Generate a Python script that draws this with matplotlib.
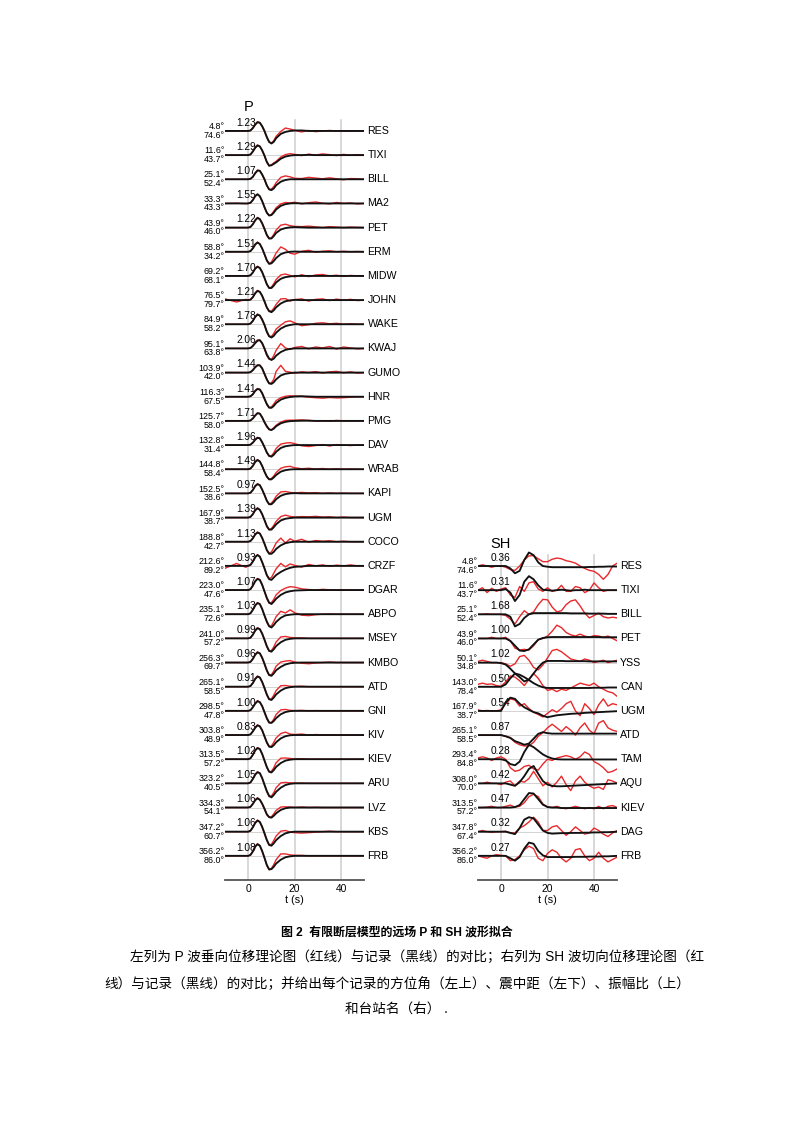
import numpy as np
import matplotlib
matplotlib.use('Agg')
import matplotlib.pyplot as plt

plt.rcParams['font.family'] = ['Liberation Sans', 'Noto Sans CJK SC', 'DejaVu Sans']

# --- tiempos de muestreo (s) -------------------------------------------------
t_p = [-10, -5, -1, 0, 1, 2, 3, 4, 5, 6, 7, 8, 9, 10, 11, 12,
       14, 16, 18, 20, 23, 26, 29, 32, 35, 38, 41, 44, 47, 50]
t_sh = [-10, -8, -6, -4, -2, 0, 2, 4, 6, 8, 10, 12, 14, 16, 18, 20,
        22, 24, 26, 28, 30, 32, 34, 36, 38, 40, 42, 44, 46, 48, 50]

# --- estaciones P ------------------------------------------------------------
p_sta = ['RES', 'TIXI', 'BILL', 'MA2', 'PET', 'ERM', 'MIDW', 'JOHN', 'WAKE', 'KWAJ',
         'GUMO', 'HNR', 'PMG', 'DAV', 'WRAB', 'KAPI', 'UGM', 'COCO', 'CRZF', 'DGAR',
         'ABPO', 'MSEY', 'KMBO', 'ATD', 'GNI', 'KIV', 'KIEV', 'ARU', 'LVZ', 'KBS', 'FRB']
p_az = [4.8, 11.6, 25.1, 33.3, 43.9, 58.8, 69.2, 76.5, 84.9, 95.1,
        103.9, 116.3, 125.7, 132.8, 144.8, 152.5, 167.9, 188.8, 212.6, 223.0,
        235.1, 241.0, 256.3, 265.1, 298.5, 303.8, 313.5, 323.2, 334.3, 347.2, 356.2]
p_dist = [74.6, 43.7, 52.4, 43.3, 46.0, 34.2, 68.1, 79.7, 58.2, 63.8,
          42.0, 67.5, 58.0, 31.4, 58.4, 38.6, 38.7, 42.7, 89.2, 47.6,
          72.6, 57.2, 69.7, 58.5, 47.8, 48.9, 57.2, 40.5, 54.1, 60.7, 86.0]
p_amp = [1.23, 1.29, 1.07, 1.55, 1.22, 1.51, 1.70, 1.21, 1.78, 2.06,
         1.44, 1.41, 1.71, 1.96, 1.49, 0.97, 1.39, 1.13, 0.93, 1.07,
         1.03, 0.99, 0.96, 0.91, 1.00, 0.83, 1.02, 1.05, 1.06, 1.06, 1.08]

# registros (negro) y sinteticos (rojo), en unidades de separacion entre trazas
p_res_obs = [0, 0, 0, 0, .02, .12, .26, .36, .34, .2, 0, -.25, -.45, -.52, -.45, -.3, -.12, -.04, 0, .02, .02, 0, 0, 0, 0, 0, 0, 0, 0, 0]
p_res_syn = [0, 0, 0, 0, .02, .13, .28, .38, .34, .18, -.02, -.28, -.47, -.5, -.4, -.22, -.02, .12, .08, .02, -.04, .02, -.03, 0, .02, 0, 0, -.01, 0, 0]
p_tixi_obs = [0, 0, 0, 0, .03, .15, .3, .4, .36, .2, -.02, -.28, -.44, -.42, -.36, -.3, -.15, -.06, -.02, 0, 0, .01, 0, 0, 0, 0, 0, 0, 0, 0]
p_tixi_syn = [0, 0, 0, 0, .03, .16, .32, .42, .36, .18, -.04, -.3, -.44, -.4, -.32, -.26, -.08, .02, .06, .03, -.02, .04, 0, .05, .02, -.02, .03, 0, .02, 0]
p_bill_obs = [0, 0, 0, 0, .02, .1, .25, .36, .35, .2, 0, -.25, -.42, -.45, -.38, -.25, -.1, -.03, 0, 0, 0, 0, 0, 0, 0, 0, 0, 0, 0, 0]
p_bill_syn = [0, 0, 0, 0, .02, .11, .27, .38, .35, .18, -.02, -.27, -.42, -.4, -.3, -.14, .08, .14, .1, .04, .03, .08, .05, .02, .06, .02, -.02, .03, .02, 0]
p_ma2_obs = [0, 0, 0, 0, .03, .14, .3, .38, .3, .1, -.15, -.38, -.5, -.48, -.38, -.25, -.1, -.03, 0, .01, 0, 0, 0, 0, 0, 0, 0, 0, 0, 0]
p_ma2_syn = [0, .01, -.01, 0, .03, .15, .32, .38, .28, .08, -.18, -.4, -.5, -.45, -.32, -.18, -.02, .04, .02, .05, -.02, .03, .06, .01, -.02, .04, 0, .02, -.02, 0]
p_pet_obs = [0, 0, 0, 0, .03, .14, .3, .4, .35, .18, -.05, -.3, -.45, -.45, -.35, -.22, -.08, -.02, .01, .02, .01, 0, 0, 0, 0, 0, 0, 0, 0, 0]
p_pet_syn = [0, 0, 0, 0, .03, .15, .32, .42, .35, .16, -.08, -.33, -.46, -.42, -.28, -.1, .1, .14, .08, .05, .04, .06, .03, 0, .04, .02, 0, .02, .01, 0]
p_erm_obs = [0, 0, 0, 0, .03, .14, .3, .38, .32, .14, -.1, -.35, -.5, -.48, -.38, -.26, -.1, -.03, 0, .01, 0, 0, 0, 0, 0, 0, 0, 0, 0, 0]
p_erm_syn = [0, 0, 0, 0, .03, .15, .32, .4, .32, .12, -.12, -.38, -.5, -.42, -.25, -.05, .2, .1, -.06, -.1, .02, .06, -.02, .02, .04, 0, .02, 0, .01, 0]
p_midw_obs = [0, 0, 0, 0, .03, .14, .3, .38, .33, .16, -.08, -.34, -.5, -.5, -.4, -.27, -.12, -.05, -.02, 0, 0, 0, 0, 0, 0, 0, 0, 0, 0, 0]
p_midw_syn = [0, 0, 0, 0, .03, .15, .32, .4, .32, .14, -.1, -.36, -.5, -.46, -.32, -.15, .04, .08, .02, -.04, .05, -.03, .04, .06, 0, .03, -.02, .02, 0, 0]
p_john_obs = [0, 0, 0, 0, .02, .12, .28, .38, .34, .18, -.05, -.3, -.46, -.5, -.42, -.3, -.14, -.05, -.01, .01, 0, 0, 0, 0, 0, 0, 0, 0, 0, 0]
p_john_syn = [.05, -.08, .03, 0, .02, .13, .3, .4, .34, .16, -.08, -.32, -.46, -.45, -.34, -.18, .05, .06, -.04, .02, .05, -.04, .03, .05, -.02, .04, 0, .03, -.02, 0]
p_wake_obs = [0, 0, 0, 0, .03, .14, .3, .4, .36, .2, -.02, -.3, -.5, -.55, -.48, -.35, -.18, -.08, -.03, 0, 0, 0, 0, 0, 0, 0, 0, 0, 0, 0]
p_wake_syn = [0, 0, 0, 0, .03, .15, .32, .42, .35, .16, -.06, -.34, -.5, -.5, -.38, -.2, -.04, .1, .14, .06, -.06, -.02, .04, .06, .02, .04, 0, .02, 0, 0]
p_kwaj_obs = [0, 0, 0, 0, .02, .1, .22, .32, .34, .22, 0, -.25, -.42, -.48, -.42, -.3, -.15, -.06, -.02, 0, 0, 0, 0, 0, 0, 0, 0, 0, 0, 0]
p_kwaj_syn = [0, 0, 0, 0, .02, .12, .25, .35, .34, .2, -.04, -.3, -.45, -.45, -.3, -.08, .2, .02, -.04, .04, .08, -.02, .06, .02, .08, -.03, .06, .02, -.02, 0]
p_gumo_obs = [0, 0, 0, 0, .02, .1, .22, .3, .3, .18, -.05, -.28, -.45, -.47, -.4, -.28, -.12, -.05, -.02, 0, 0, 0, 0, 0, 0, 0, 0, 0, 0, 0]
p_gumo_syn = [0, 0, 0, 0, .02, .11, .24, .32, .3, .15, -.08, -.3, -.45, -.42, -.28, .05, .3, .05, .02, -.03, .03, 0, .04, -.02, .03, .05, -.01, .03, -.02, 0]
p_hnr_obs = [0, 0, 0, 0, .02, .1, .24, .32, .3, .15, -.08, -.3, -.45, -.46, -.38, -.26, -.12, -.05, -.01, .01, .02, .01, 0, 0, 0, 0, 0, 0, 0, 0]
p_hnr_syn = [0, 0, 0, 0, .02, .11, .26, .34, .3, .13, -.1, -.33, -.46, -.42, -.3, -.16, -.04, .02, .04, .03, .02, -.02, -.04, -.06, -.03, -.05, -.04, -.02, 0, 0]
p_pmg_obs = [0, 0, 0, 0, .02, .1, .22, .32, .3, .15, -.05, -.22, -.35, -.38, -.32, -.22, -.1, -.04, -.01, 0, .01, .01, 0, 0, 0, 0, 0, 0, 0, 0]
p_pmg_syn = [0, 0, 0, 0, .02, .11, .24, .33, .3, .13, -.07, -.25, -.36, -.36, -.28, -.18, -.05, .02, .03, .03, .04, .02, 0, .01, -.01, .02, 0, 0, 0, 0]
p_dav_obs = [0, 0, 0, 0, .02, .1, .22, .3, .28, .12, -.08, -.3, -.45, -.48, -.4, -.28, -.12, -.05, -.02, 0, 0, 0, 0, 0, 0, 0, 0, 0, 0, 0]
p_dav_syn = [0, 0, 0, 0, .02, .11, .24, .32, .28, .1, -.1, -.33, -.46, -.44, -.32, -.14, .04, .08, .1, .06, -.03, -.06, -.02, .02, -.04, .02, 0, -.02, 0, 0]
p_wrab_obs = [0, 0, 0, 0, .03, .14, .3, .38, .32, .14, -.1, -.3, -.42, -.42, -.34, -.24, -.1, -.04, -.01, 0, 0, 0, 0, 0, 0, 0, 0, 0, 0, 0]
p_wrab_syn = [0, 0, 0, 0, .03, .15, .32, .4, .32, .12, -.12, -.32, -.42, -.38, -.28, -.14, .04, .1, .12, .06, .02, .04, .01, .03, 0, .02, 0, .01, 0, 0]
p_kapi_obs = [0, 0, 0, 0, .03, .14, .3, .38, .34, .16, -.06, -.3, -.45, -.45, -.36, -.24, -.1, -.03, 0, .01, 0, 0, 0, 0, 0, 0, 0, 0, 0, 0]
p_kapi_syn = [0, 0, 0, 0, .03, .15, .32, .4, .34, .14, -.08, -.32, -.45, -.4, -.28, -.12, .06, .08, .04, .02, .04, .02, .03, 0, .02, 0, .01, 0, 0, 0]
p_ugm_obs = [0, 0, 0, 0, .03, .14, .3, .38, .32, .14, -.1, -.35, -.5, -.5, -.4, -.28, -.12, -.05, -.02, 0, 0, 0, 0, 0, 0, 0, 0, 0, 0, 0]
p_ugm_syn = [0, 0, 0, 0, .03, .15, .32, .4, .32, .12, -.12, -.38, -.5, -.45, -.32, -.16, .04, .1, .05, .02, .04, .03, .05, .02, .03, 0, .02, 0, 0, 0]
p_coco_obs = [0, 0, 0, 0, .03, .14, .3, .38, .34, .16, -.08, -.34, -.5, -.5, -.42, -.3, -.15, -.06, -.02, 0, 0, 0, 0, 0, 0, 0, 0, 0, 0, 0]
p_coco_syn = [0, 0, 0, 0, .03, .15, .32, .4, .34, .14, -.1, -.36, -.48, -.42, -.25, -.05, .15, -.05, .12, .02, .1, -.02, .05, .02, .04, 0, .02, 0, 0, 0]
p_crzf_obs = [0, 0, 0, 0, .04, .18, .36, .45, .38, .16, -.1, -.38, -.55, -.58, -.48, -.38, -.25, -.15, -.08, -.04, -.02, 0, 0, 0, 0, 0, 0, 0, 0, 0]
p_crzf_syn = [-.1, .1, -.06, .02, .05, .2, .38, .46, .38, .14, -.12, -.4, -.52, -.48, -.3, -.12, .1, -.04, .08, .02, -.05, .06, 0, .04, -.02, .03, 0, .04, 0, 0]
p_dgar_obs = [0, 0, 0, 0, .04, .18, .36, .46, .42, .22, -.05, -.32, -.52, -.58, -.48, -.36, -.2, -.1, -.05, -.02, -.01, 0, 0, 0, 0, 0, 0, 0, 0, 0]
p_dgar_syn = [0, 0, 0, 0, .04, .2, .38, .48, .42, .2, -.08, -.36, -.55, -.52, -.38, -.2, -.02, .08, .14, .12, .05, .02, 0, .03, .01, 0, .01, 0, 0, 0]
p_abpo_obs = [0, 0, 0, 0, .04, .18, .36, .46, .42, .22, -.05, -.3, -.5, -.55, -.45, -.32, -.15, -.05, -.02, 0, 0, 0, 0, 0, 0, 0, 0, 0, 0, 0]
p_abpo_syn = [0, 0, 0, 0, .04, .2, .38, .48, .42, .2, -.08, -.34, -.5, -.48, -.3, -.1, .12, .05, .18, .06, -.04, -.06, -.02, 0, .01, 0, 0, 0, 0, 0]
p_msey_obs = [0, 0, 0, 0, .03, .15, .32, .42, .38, .2, -.05, -.32, -.52, -.55, -.45, -.32, -.16, -.06, -.02, 0, 0, 0, 0, 0, 0, 0, 0, 0, 0, 0]
p_msey_syn = [0, 0, 0, 0, .03, .16, .34, .44, .38, .18, -.08, -.35, -.52, -.5, -.35, -.15, .06, .08, .04, .02, .02, 0, 0, 0, 0, 0, 0, 0, 0, 0]
p_kmbo_obs = [0, 0, 0, 0, .03, .15, .32, .42, .38, .2, -.05, -.32, -.52, -.55, -.45, -.32, -.18, -.08, -.03, -.01, 0, 0, 0, 0, 0, 0, 0, 0, 0, 0]
p_kmbo_syn = [0, 0, 0, 0, .03, .16, .34, .44, .38, .18, -.08, -.35, -.52, -.5, -.35, -.15, .02, .06, .08, .02, -.03, -.05, -.02, 0, .02, 0, 0, 0, 0, 0]
p_atd_obs = [0, 0, 0, 0, .03, .15, .32, .42, .38, .2, -.05, -.32, -.52, -.55, -.45, -.32, -.16, -.06, -.02, 0, 0, 0, 0, 0, 0, 0, 0, 0, 0, 0]
p_atd_syn = [0, 0, 0, 0, .03, .16, .34, .44, .38, .18, -.08, -.35, -.52, -.5, -.35, -.16, .04, .05, .02, .01, .02, 0, 0, 0, 0, 0, 0, 0, 0, 0]
p_gni_obs = [0, 0, 0, 0, .03, .15, .3, .4, .36, .2, -.05, -.3, -.48, -.5, -.42, -.3, -.14, -.05, -.01, 0, 0, 0, 0, 0, 0, 0, 0, 0, 0, 0]
p_gni_syn = [0, 0, 0, 0, .03, .16, .32, .42, .36, .18, -.08, -.33, -.5, -.48, -.34, -.15, .04, .06, .02, .01, .02, 0, .01, 0, 0, 0, 0, 0, 0, 0]
p_kiv_obs = [0, 0, 0, 0, .03, .15, .3, .4, .36, .2, -.05, -.3, -.48, -.5, -.42, -.3, -.14, -.05, -.01, 0, 0, 0, 0, 0, 0, 0, 0, 0, 0, 0]
p_kiv_syn = [0, 0, 0, 0, .03, .16, .32, .42, .36, .18, -.08, -.33, -.48, -.45, -.3, -.12, .06, .12, .04, .02, .04, 0, .02, 0, .01, 0, 0, 0, 0, 0]
p_kiev_obs = [0, 0, 0, 0, .04, .18, .36, .46, .42, .22, -.05, -.32, -.52, -.55, -.45, -.32, -.16, -.06, -.02, 0, 0, 0, 0, 0, 0, 0, 0, 0, 0, 0]
p_kiev_syn = [0, 0, 0, 0, .04, .2, .38, .48, .42, .2, -.08, -.35, -.52, -.5, -.35, -.15, .04, .05, .03, .01, .02, 0, 0, 0, 0, 0, 0, 0, 0, 0]
p_aru_obs = [0, 0, 0, 0, .04, .18, .36, .46, .42, .22, -.05, -.32, -.52, -.58, -.48, -.35, -.18, -.07, -.02, 0, 0, 0, 0, 0, 0, 0, 0, 0, 0, 0]
p_aru_syn = [0, 0, 0, 0, .04, .2, .38, .48, .42, .2, -.08, -.35, -.55, -.52, -.38, -.18, .02, .04, .02, .01, .01, 0, 0, 0, 0, 0, 0, 0, 0, 0]
p_lvz_obs = [0, 0, 0, 0, .03, .15, .3, .38, .32, .16, -.05, -.28, -.4, -.42, -.34, -.24, -.1, -.03, 0, 0, 0, 0, 0, 0, 0, 0, 0, 0, 0, 0]
p_lvz_syn = [0, 0, 0, 0, .03, .16, .32, .4, .32, .14, -.08, -.3, -.4, -.38, -.26, -.12, .02, .03, .02, 0, .02, 0, .01, 0, 0, 0, 0, 0, 0, 0]
p_kbs_obs = [0, 0, 0, 0, .04, .18, .36, .46, .4, .2, -.06, -.34, -.55, -.58, -.48, -.35, -.18, -.07, -.02, 0, 0, 0, 0, 0, 0, 0, 0, 0, 0, 0]
p_kbs_syn = [0, 0, 0, 0, .04, .2, .38, .48, .4, .18, -.1, -.37, -.55, -.52, -.36, -.18, .02, .05, -.02, -.04, -.06, -.04, -.02, 0, .02, 0, 0, 0, 0, 0]
p_frb_obs = [0, 0, 0, 0, .04, .18, .38, .48, .42, .2, -.08, -.38, -.56, -.55, -.45, -.32, -.16, -.06, -.02, 0, 0, 0, 0, 0, 0, 0, 0, 0, 0, 0]
p_frb_syn = [0, 0, 0, 0, .04, .2, .4, .5, .42, .18, -.1, -.4, -.58, -.52, -.36, -.16, .08, .08, .04, .02, .02, 0, 0, 0, 0, 0, 0, 0, 0, 0]

p_obs = [p_res_obs, p_tixi_obs, p_bill_obs, p_ma2_obs, p_pet_obs, p_erm_obs, p_midw_obs,
         p_john_obs, p_wake_obs, p_kwaj_obs, p_gumo_obs, p_hnr_obs, p_pmg_obs, p_dav_obs,
         p_wrab_obs, p_kapi_obs, p_ugm_obs, p_coco_obs, p_crzf_obs, p_dgar_obs, p_abpo_obs,
         p_msey_obs, p_kmbo_obs, p_atd_obs, p_gni_obs, p_kiv_obs, p_kiev_obs, p_aru_obs,
         p_lvz_obs, p_kbs_obs, p_frb_obs]
p_syn = [p_res_syn, p_tixi_syn, p_bill_syn, p_ma2_syn, p_pet_syn, p_erm_syn, p_midw_syn,
         p_john_syn, p_wake_syn, p_kwaj_syn, p_gumo_syn, p_hnr_syn, p_pmg_syn, p_dav_syn,
         p_wrab_syn, p_kapi_syn, p_ugm_syn, p_coco_syn, p_crzf_syn, p_dgar_syn, p_abpo_syn,
         p_msey_syn, p_kmbo_syn, p_atd_syn, p_gni_syn, p_kiv_syn, p_kiev_syn, p_aru_syn,
         p_lvz_syn, p_kbs_syn, p_frb_syn]

# --- estaciones SH -----------------------------------------------------------
sh_sta = ['RES', 'TIXI', 'BILL', 'PET', 'YSS', 'CAN', 'UGM', 'ATD', 'TAM', 'AQU', 'KIEV', 'DAG', 'FRB']
sh_az = [4.8, 11.6, 25.1, 43.9, 50.1, 143.0, 167.9, 265.1, 293.4, 308.0, 313.5, 347.8, 356.2]
sh_dist = [74.6, 43.7, 52.4, 46.0, 34.8, 78.4, 38.7, 58.5, 84.8, 70.0, 57.2, 67.4, 86.0]
sh_amp = [0.36, 0.31, 1.68, 1.00, 1.02, 0.50, 0.54, 0.87, 0.28, 0.42, 0.47, 0.32, 0.27]

sh_res_obs = [0, 0, 0, 0, 0, 0, 0, -.1, -.3, -.2, .25, .56, .45, .15, 0, -.03, -.05, -.05, -.05, -.05, -.05, -.05, -.05, -.05, -.04, -.04, -.03, -.03, -.02, -.02, -.02]
sh_res_syn = [0, .05, 0, -.05, 0, 0, -.05, -.15, -.18, 0, .25, .42, .43, .3, .18, .18, .28, .33, .3, .22, .18, .12, 0, -.1, -.18, -.22, -.35, -.55, -.35, 0, .12]
sh_tixi_obs = [0, 0, 0, 0, 0, 0, .05, -.1, -.45, -.2, .35, .58, .45, .2, .02, 0, -.02, 0, .02, 0, -.02, 0, 0, .02, 0, 0, 0, 0, 0, 0, 0]
sh_tixi_syn = [0, .1, -.1, .08, -.05, .05, .1, -.2, -.3, .15, -.05, .3, .35, .05, -.05, .1, -.05, 0, .2, -.05, -.05, .15, .1, -.1, 0, .3, .1, -.05, 0, 0, 0]
sh_bill_obs = [0, 0, 0, 0, 0, 0, 0, -.1, -.5, -.4, -.15, 0, .05, .05, .05, .05, .05, .05, .05, .05, .04, .04, .04, .04, .03, .03, .03, .03, .02, .02, .02]
sh_bill_syn = [0, 0, .02, 0, 0, 0, -.05, -.2, -.4, -.1, .15, 0, .1, .4, .62, .6, .3, .1, .15, .4, .55, .6, .35, .05, -.15, -.05, .05, -.1, -.15, -.12, -.15]
sh_pet_obs = [0, 0, 0, 0, 0, 0, 0, -.1, -.3, -.5, -.52, -.45, -.25, -.05, .02, .05, .06, .06, .06, .06, .06, .06, .06, .06, .06, .06, .06, .05, .05, .05, .05]
sh_pet_syn = [0, 0, 0, .05, 0, 0, .05, -.1, -.4, -.48, -.45, -.48, -.3, -.05, 0, .1, .3, .55, .45, .25, .15, .1, .18, .1, .05, .12, .1, .05, .1, 0, -.1]
sh_yss_obs = [0, 0, 0, 0, 0, -.02, -.08, -.25, -.45, -.6, -.78, -.7, -.45, -.2, 0, .07, .07, .07, .07, .06, .06, .06, .06, .06, .05, .05, .05, .05, .05, .05, .05]
sh_yss_syn = [.05, .1, .05, 0, 0, 0, -.05, -.15, -.05, .25, .3, .1, -.2, -.3, -.1, .2, .5, .55, .45, .3, .15, .1, .05, .15, .1, 0, .05, .1, 0, .05, .1]
sh_can_obs = [0, 0, 0, 0, 0, 0, .1, .35, .55, .5, .4, .28, .15, .05, -.02, -.05, -.05, -.05, -.05, -.05, -.05, -.05, -.05, -.05, -.05, -.04, -.04, -.04, -.03, -.03, -.03]
sh_can_syn = [.1, .15, .1, .12, .05, .02, .2, .45, .4, .25, .05, .3, .55, .35, .05, -.15, -.1, -.2, -.1, -.15, -.05, .05, .15, .1, .05, .15, 0, -.1, -.2, -.25, -.4]
sh_ugm_obs = [0, 0, 0, 0, 0, 0, .35, .55, .5, .3, .15, .05, -.05, -.1, -.2, -.26, -.22, -.18, -.16, -.14, -.12, -.11, -.1, -.08, -.07, -.06, -.05, -.04, -.03, -.02, -.01]
sh_ugm_syn = [.05, 0, .02, 0, 0, .05, .3, .5, .45, .2, .3, .1, -.05, -.15, -.25, -.1, .05, -.05, .1, .3, .4, 0, -.2, .3, .1, -.15, .25, .5, .2, .3, .25]
sh_atd_obs = [0, 0, 0, 0, 0, 0, -.05, -.12, -.25, -.32, -.4, -.35, -.15, .05, .12, .08, .06, .06, .06, .06, .06, .06, .06, .06, .06, .06, .06, .06, .06, .06, .06]
sh_atd_syn = [0, 0, 0, 0, 0, 0, -.05, -.1, -.3, -.4, -.45, -.45, -.3, -.05, .1, .3, .45, .3, .15, .35, .2, 0, .3, .5, .2, .05, .5, .6, .3, .2, .15]
sh_tam_obs = [0, 0, 0, 0, 0, 0, -.05, -.2, -.25, -.1, .3, .6, .5, .35, .2, .1, .03, 0, -.01, -.01, -.01, -.01, -.01, -.01, -.01, -.01, -.01, -.01, -.01, -.01, -.01]
sh_tam_syn = [.05, .1, .05, -.05, .05, .1, 0, -.35, -.5, -.45, -.3, -.25, -.4, -.45, -.2, 0, -.05, .05, .1, .15, .1, 0, .1, .3, .2, -.1, -.2, -.35, -.55, -.5, -.4]
sh_aqu_obs = [0, 0, 0, 0, 0, 0, 0, -.05, -.1, .05, .3, .6, .72, .4, .1, -.05, -.1, -.12, -.12, -.11, -.1, -.09, -.08, -.07, -.06, -.05, -.04, -.03, -.02, -.01, 0]
sh_aqu_syn = [0, 0, .05, 0, 0, -.05, .05, .1, -.1, .1, .05, .2, .5, .2, -.1, .05, -.15, .05, .3, -.05, -.3, .1, .3, .05, -.1, -.2, -.15, -.25, .15, .1, 0]
sh_kiev_obs = [0, 0, 0, 0, 0, 0, 0, 0, .02, .1, .35, .6, .58, .35, .12, .02, 0, 0, -.02, -.02, -.02, -.02, -.02, -.02, -.02, -.02, -.02, -.02, -.02, -.02, -.02]
sh_kiev_syn = [0, 0, .02, .05, 0, 0, .05, .1, .02, .05, .2, .45, .55, .45, .15, .02, 0, .05, -.02, -.05, 0, .05, 0, -.05, 0, -.05, .05, -.05, .05, .08, 0]
sh_dag_obs = [0, 0, 0, 0, 0, 0, 0, -.05, -.1, .15, .5, .6, .55, .3, .05, -.05, -.08, -.07, -.06, -.06, -.05, -.05, -.05, -.04, -.04, -.03, -.03, -.02, -.02, -.01, 0]
sh_dag_syn = [0, .05, 0, -.03, 0, 0, .02, -.05, -.05, .15, .25, .4, .6, .4, .05, .05, .2, .25, .05, -.15, 0, .2, .05, -.1, -.05, .15, .05, -.1, -.2, -.05, .05]
sh_frb_obs = [0, 0, 0, 0, 0, 0, 0, -.1, -.2, -.05, .3, .55, .5, .2, .02, -.05, -.05, -.05, -.05, -.05, -.05, -.04, -.04, -.04, -.03, -.03, -.03, -.02, -.02, -.01, 0]
sh_frb_syn = [0, -.05, -.1, 0, .05, .02, 0, -.2, -.15, 0, .25, .4, .3, -.1, -.2, .1, .25, .15, -.1, -.25, -.1, .25, .3, 0, -.2, -.1, .15, -.1, -.25, -.15, -.05]

sh_obs = [sh_res_obs, sh_tixi_obs, sh_bill_obs, sh_pet_obs, sh_yss_obs, sh_can_obs, sh_ugm_obs,
          sh_atd_obs, sh_tam_obs, sh_aqu_obs, sh_kiev_obs, sh_dag_obs, sh_frb_obs]
sh_syn = [sh_res_syn, sh_tixi_syn, sh_bill_syn, sh_pet_syn, sh_yss_syn, sh_can_syn, sh_ugm_syn,
          sh_atd_syn, sh_tam_syn, sh_aqu_syn, sh_kiev_syn, sh_dag_syn, sh_frb_syn]


# --- dibujo de un panel ------------------------------------------------------
def panel(ax, t, obs, syn, sta, az, dist, amp, titulo, amp_x, top, title_y):
    n = len(sta)
    bottom = -(n - 1) - 1.0
    for x in (0, 20, 40):
        ax.plot([x, x], [0.45, bottom], color='#d2d2d2', lw=1.2, zorder=0)
    for i in range(n):
        y0 = -i
        ax.axhline(y0, color='#cccccc', lw=0.6, zorder=0)
        ax.plot(t, np.array(syn[i]) + y0, color='#e8282b', lw=1.0, zorder=3)
        ax.plot(t, np.array(obs[i]) + y0, color='#111111', lw=1.35, zorder=4)
        ax.text(-10.2, y0 + 0.18, f'{az[i]:.1f}°', ha='right', va='center', fontsize=6.4)
        ax.text(-10.2, y0 - 0.18, f'{dist[i]:.1f}°', ha='right', va='center', fontsize=6.4)
        ax.text(amp_x, y0 + 0.34, f'{amp[i]:.2f}', ha='center', va='center', fontsize=7.3, zorder=2)
        ax.text(51.3, y0, sta[i], ha='left', va='center', fontsize=7.7)
    ax.text(0, title_y, titulo, ha='center', va='center', fontsize=10.5)
    ax.set_xlim(-10, 50)
    ax.set_ylim(bottom, top)
    for s in ('top', 'left', 'right'):
        ax.spines[s].set_visible(False)
    ax.spines['bottom'].set_color('#555555')
    ax.spines['bottom'].set_linewidth(1.3)
    ax.set_yticks([])
    ax.set_xticks([0, 20, 40])
    ax.tick_params(axis='x', length=0, pad=3, labelsize=7.4)
    ax.set_xlabel('t (s)', fontsize=7.8, labelpad=0.5)


fig = plt.figure(figsize=(7.93, 11.22), dpi=100)
ax_p = fig.add_axes([0.2837, 1 - 880 / 1122, 0.1759, 765 / 1122])
ax_sh = fig.add_axes([0.6025, 1 - 880 / 1122, 0.1759, 335 / 1122])

panel(ax_p, t_p, p_obs, p_syn, p_sta, p_az, p_dist, p_amp, 'P', -0.8, 0.66, 1.0)
panel(ax_sh, t_sh, sh_obs, sh_syn, sh_sta, sh_az, sh_dist, sh_amp, 'SH', -0.4, 0.87, 0.92)

# --- leyenda de la figura ----------------------------------------------------
fig.text(0.5, 1 - 933 / 1122, '图 2  有限断层模型的远场 P 和 SH 波形拟合',
         ha='center', va='center', fontsize=8.6, fontweight='bold')
fig.text(130 / 793, 1 - 957 / 1122,
         '左列为 P 波垂向位移理论图（红线）与记录（黑线）的对比；右列为 SH 波切向位移理论图（红',
         ha='left', va='center', fontsize=9.8)
fig.text(104 / 793, 1 - 984 / 1122,
         '线）与记录（黑线）的对比；并给出每个记录的方位角（左上）、震中距（左下）、振幅比（上）',
         ha='left', va='center', fontsize=9.8)
fig.text(0.5, 1 - 1009 / 1122, '和台站名（右） .', ha='center', va='center', fontsize=9.8)

fig.savefig('out.png', dpi=100, facecolor='white')
